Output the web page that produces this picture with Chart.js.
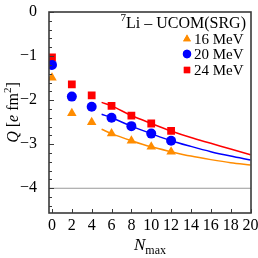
<!DOCTYPE html>
<html>
<head>
<meta charset="utf-8">
<script src="https://cdn.jsdelivr.net/npm/chart.js@4.4.1/dist/chart.umd.min.js"></script>
<style>
  html, body { margin: 0; padding: 0; background: #fff; }
</style>
</head>
<body>
<canvas id="c" width="258" height="258"></canvas>
<script>
// data
const nmax = [0, 2, 4, 6, 8, 10, 12];
const q16 = [-1.49, -2.30, -2.50, -2.76, -2.92, -3.06, -3.17];
const q20 = [-1.20, -1.92, -2.15, -2.40, -2.59, -2.76, -2.92];
const q24 = [-1.03, -1.64, -1.89, -2.13, -2.35, -2.53, -2.70];

// fitted curves (extrapolation)
const fitN = [5, 6, 8, 10, 12, 14, 16, 18, 20];
const fit16 = [-2.66, -2.76, -2.92, -3.06, -3.17, -3.27, -3.35, -3.42, -3.47];
const fit20 = [-2.32, -2.40, -2.59, -2.76, -2.92, -3.05, -3.17, -3.27, -3.36];
const fit24 = [-2.05, -2.13, -2.35, -2.53, -2.70, -2.85, -2.98, -3.11, -3.24];

const refLine = -4;
const xTicks = [0, 2, 4, 6, 8, 10, 12, 14, 16, 18, 20];
const yTicks = [0, -1, -2, -3, -4];
const labels = ['16 MeV', '20 MeV', '24 MeV'];

const ORANGE = '#ff8c00', BLUE = '#0000ff', RED = '#ff0000';
const SERIF = "'Liberation Serif', 'Times New Roman', serif";

function pts(xs, ys) { return xs.map((x, i) => ({ x: x, y: ys[i] })); }

const frame = {
  id: 'boxframe',
  afterDraw(chart) {
    const ctx = chart.ctx;
    const xs = chart.scales.x, ys = chart.scales.y;
    const L = Math.round(xs.getPixelForValue(xs.min)), R = Math.round(xs.getPixelForValue(xs.max));
    const T = Math.round(ys.getPixelForValue(ys.max)), B = Math.round(ys.getPixelForValue(ys.min));
    ctx.save();
    ctx.strokeStyle = '#3a3a3a';
    ctx.lineWidth = 1.6;
    ctx.strokeRect(L, T, R - L, B - T);
    // inward ticks
    ctx.lineWidth = 1;
    ctx.beginPath();
    xTicks.forEach(v => {
      const px = Math.round(xs.getPixelForValue(v)) + 0.5;
      ctx.moveTo(px, B); ctx.lineTo(px, B - 4);
    });
    for (let v = 0; v >= -4.5; v -= 0.2) {
      const py = Math.round(ys.getPixelForValue(v)) + 0.5;
      const major = Math.abs(v - Math.round(v)) < 0.01;
      ctx.moveTo(L, py); ctx.lineTo(L + (major ? 5 : 3), py);
    }
    ctx.stroke();

    ctx.fillStyle = '#000';
    ctx.textAlign = 'left';
    ctx.textBaseline = 'alphabetic';
    // x title
    ctx.font = 'italic 17px ' + SERIF;
    const nW = ctx.measureText('N').width;
    ctx.font = '12px ' + SERIF;
    const mW = ctx.measureText('max').width;
    const cx = (L + R) / 2 - (nW + mW) / 2;
    ctx.font = 'italic 17px ' + SERIF;
    ctx.fillText('N', cx, 250);
    ctx.font = '12px ' + SERIF;
    ctx.fillText('max', cx + nW, 254);

    // y title, rotated
    ctx.save();
    ctx.translate(18, (T + B) / 2);
    ctx.rotate(-Math.PI / 2);
    const parts = [
      ['italic 16px ', 'Q', 0], ['16px ', ' [', 0], ['italic 16px ', 'e', 0],
      ['16px ', ' fm', 0], ['11px ', '2', -7], ['16px ', ']', 0]
    ];
    let tw = 0;
    parts.forEach(p => { ctx.font = p[0] + SERIF; tw += ctx.measureText(p[1]).width; });
    let tx = -tw / 2;
    parts.forEach(p => {
      ctx.font = p[0] + SERIF;
      ctx.fillText(p[1], tx, p[2]);
      tx += ctx.measureText(p[1]).width;
    });
    ctx.restore();

    // legend title
    ctx.font = '16px ' + SERIF;
    const tTxt = 'Li \u2013 UCOM(SRG)';
    const tW = ctx.measureText(tTxt).width;
    ctx.fillText(tTxt, 246 - tW, 28);
    ctx.font = '11px ' + SERIF;
    ctx.fillText('7', 246 - tW - ctx.measureText('7').width, 21);

    // legend entries
    const styles = [['triangle', ORANGE, 4.5], ['circle', BLUE, 4.2], ['rect', RED, 4.5]];
    ctx.font = '15px ' + SERIF;
    ctx.textBaseline = 'middle';
    [39, 54, 70].forEach((y, i) => {
      const s = styles[i];
      ctx.fillStyle = s[1];
      ctx.strokeStyle = s[1];
      Chart.helpers.drawPoint(ctx, { pointStyle: s[0], radius: s[2], borderWidth: 0 }, 187, y);
      ctx.fill();
      ctx.fillStyle = '#000';
      ctx.fillText(labels[i], 194, y + 1);
    });
    ctx.restore();
  }
};

const lineDs = (data, color) => ({
  type: 'line', data: data, borderColor: color, borderWidth: 1.5,
  pointRadius: 0, showLine: true, fill: false, cubicInterpolationMode: 'monotone'
});
const ptDs = (data, color, style, r) => ({
  type: 'scatter', data: data, backgroundColor: color, borderColor: color,
  borderWidth: 0, pointStyle: style, pointRadius: r
});

new Chart(document.getElementById('c'), {
  type: 'scatter',
  data: {
    datasets: [
      ptDs(pts(nmax, q16), ORANGE, 'triangle', 5.5),
      ptDs(pts(nmax, q20), BLUE, 'circle', 5),
      ptDs(pts(nmax, q24), RED, 'rect', 5.5),
      lineDs(pts(fitN, fit16), ORANGE),
      lineDs(pts(fitN, fit20), BLUE),
      lineDs(pts(fitN, fit24), RED),
      { type: 'line', data: [{ x: -0.3, y: refLine }, { x: 20.05, y: refLine }],
        borderColor: '#999', borderWidth: 1, pointRadius: 0 }
    ]
  },
  options: {
    responsive: false,
    animation: false,
    layout: { padding: { top: 12, right: 7, left: 0, bottom: 0 } },
    plugins: { legend: { display: false }, tooltip: { enabled: false } },
    scales: {
      x: {
        type: 'linear', min: -0.3, max: 20.05,
        grid: { display: false }, border: { display: false },
        afterBuildTicks: s => { s.ticks = xTicks.map(v => ({ value: v })); },
        afterFit: s => { s.height = 45.5; s.paddingLeft = 0; s.paddingRight = 0; },
        ticks: { color: '#000', padding: -4, maxRotation: 0, autoSkip: false,
          font: { family: SERIF, size: 16 } }
      },
      y: {
        type: 'linear', min: -4.55, max: 0,
        grid: { display: false }, border: { display: false },
        afterBuildTicks: s => { s.ticks = yTicks.map(v => ({ value: v })); },
        afterFit: s => { s.width = 49; s.paddingTop = 0; s.paddingBottom = 0; },
        ticks: { color: '#000', padding: 4, autoSkip: false,
          font: { family: SERIF, size: 16 },
          callback: v => v === 0 ? '0' : '\u2212' + Math.abs(v) }
      }
    }
  },
  plugins: [frame]
});
</script>
</body>
</html>
